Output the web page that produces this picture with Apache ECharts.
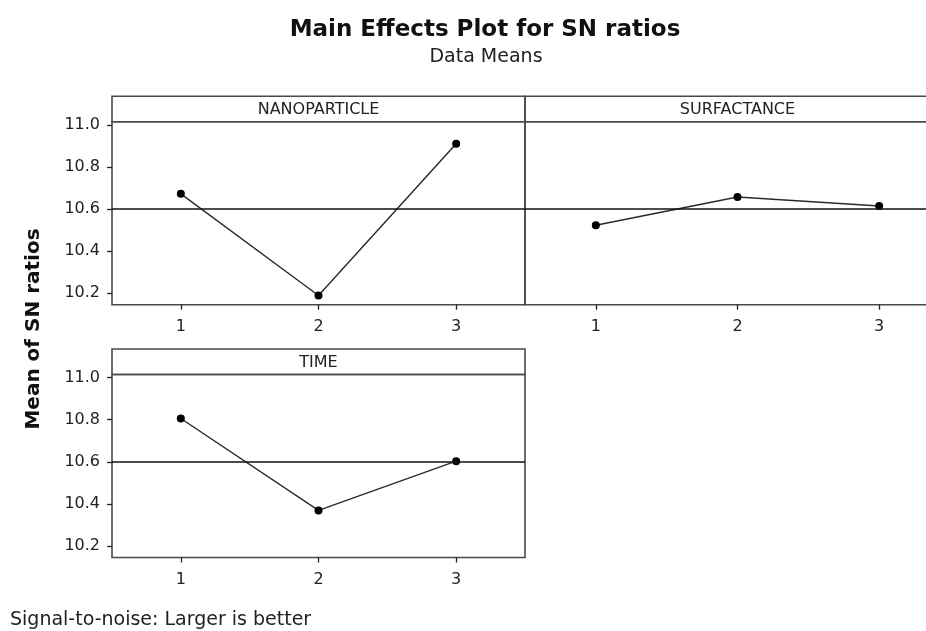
<!DOCTYPE html>
<html>
<head>
<meta charset="utf-8">
<script src="https://cdn.jsdelivr.net/npm/echarts@6/dist/echarts.min.js"></script>
<style>html,body{margin:0;padding:0;background:#fff;}#c{width:926px;height:631px;}</style>
</head>
<body>
<div id="c"></div>
<script>
// ---- data ----
const levels = ['1', '2', '3'];
const nanoparticle = [10.672, 10.189, 10.910];
const surfactance = [10.523, 10.657, 10.614];
const timeVals = [10.806, 10.369, 10.603];
const yTicks = [10.2, 10.4, 10.6, 10.8, 11.0];
const grandMean = 10.595;
const panelNames = ['NANOPARTICLE', 'SURFACTANCE', 'TIME'];
const titleText = 'Main Effects Plot for SN ratios';
const subtitleText = 'Data Means';
const yName = 'Mean of SN ratios';
const footerText = 'Signal-to-noise: Larger is better';

const FONT = 'DejaVu Sans';
const yMin = 10.145, yMax = 11.015;
const panels = [
  { left: 112, top: 121.7, width: 413, height: 183, data: nanoparticle, name: panelNames[0], yLabels: true },
  { left: 525, top: 121.7, width: 425, height: 183, data: surfactance, name: panelNames[1], yLabels: false },
  { left: 112, top: 374.5, width: 413, height: 183, data: timeVals, name: panelNames[2], yLabels: true }
];
const stripH = 25.5;

const chart = echarts.init(document.getElementById('c'), null, { renderer: 'canvas' });

const grid = [], xAxis = [], yAxis = [], series = [], graphic = [];
panels.forEach((p, i) => {
  grid.push({ left: p.left, top: p.top, width: p.width, height: p.height, show: true,
    borderColor: '#4a4a4a', borderWidth: 1.6, backgroundColor: 'transparent', containLabel: false, outerBoundsMode: 'none' });
  xAxis.push({ type: 'category', gridIndex: i, data: levels, boundaryGap: true,
    axisLine: { show: false },
    axisTick: { show: true, alignWithLabel: true, length: 5, lineStyle: { color: '#222', width: 1.3 } },
    axisLabel: { fontFamily: FONT, fontSize: 16, color: '#222', margin: 14 },
    splitLine: { show: false } });
  yAxis.push({ type: 'value', gridIndex: i, min: yMin, max: yMax,
    axisLine: { show: false },
    axisTick: { show: p.yLabels, length: 5, customValues: yTicks, lineStyle: { color: '#222', width: 1.3 } },
    axisLabel: { show: p.yLabels, customValues: yTicks, fontFamily: FONT, fontSize: 16, color: '#222', margin: 12,
      formatter: v => Number(v).toFixed(1) },
    splitLine: { show: false } });
  series.push({ type: 'line', xAxisIndex: i, yAxisIndex: i, data: p.data,
    symbol: 'circle', symbolSize: 8, lineStyle: { color: '#2a2a2a', width: 1.4 },
    itemStyle: { color: '#000' }, animation: false, z: 3,
    markLine: { silent: true, symbol: 'none', animation: false, label: { show: false },
      lineStyle: { color: '#111', width: 1.6, type: 'solid' }, data: [{ yAxis: grandMean }] } });
  graphic.push({ type: 'rect', shape: { x: p.left, y: p.top - stripH, width: p.width, height: stripH },
    style: { fill: 'none', stroke: '#4a4a4a', lineWidth: 1.6 }, silent: true });
  graphic.push({ type: 'text', x: p.left + p.width / 2, y: p.top - stripH / 2 + 1,
    style: { text: p.name, fontFamily: FONT, fontSize: 16, fill: '#222', textAlign: 'center', textVerticalAlign: 'middle' }, silent: true });
});

graphic.push({ type: 'text', x: 485, y: 30,
  style: { text: titleText, fontFamily: FONT, fontWeight: 'bold', fontSize: 23, fill: '#111', textAlign: 'center', textVerticalAlign: 'middle' } });
graphic.push({ type: 'text', x: 486, y: 57,
  style: { text: subtitleText, fontFamily: FONT, fontSize: 19, fill: '#222', textAlign: 'center', textVerticalAlign: 'middle' } });
graphic.push({ type: 'text', x: 34, y: 329, rotation: Math.PI / 2,
  style: { text: yName, fontFamily: FONT, fontWeight: 'bold', fontSize: 20, fill: '#111', textAlign: 'center', textVerticalAlign: 'middle' } });
graphic.push({ type: 'text', x: 10, y: 620,
  style: { text: footerText, fontFamily: FONT, fontSize: 19, fill: '#222', textAlign: 'left', textVerticalAlign: 'middle' } });

chart.setOption({ animation: false, backgroundColor: '#fff', grid, xAxis, yAxis, series, graphic });
</script>
</body>
</html>
